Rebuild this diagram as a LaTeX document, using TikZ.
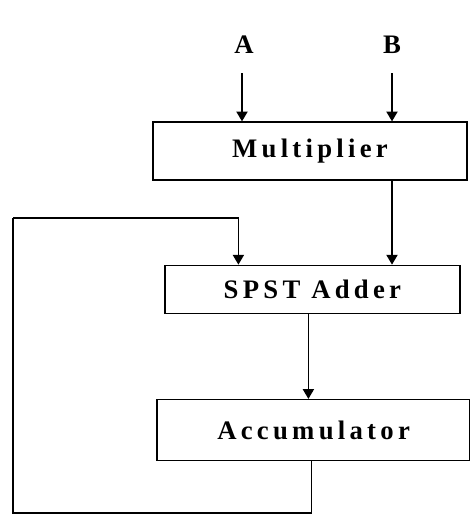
\documentclass[tikz,border=0pt]{standalone}
\usepackage{fontspec}
\setmainfont{Liberation Serif}
\usetikzlibrary{positioning, arrows.meta}

\begin{document}
\begin{tikzpicture}[
    node distance=2.1cm,
    block/.style={rectangle, draw=black, line width=0.9pt, minimum width=7.85cm, minimum height=1.45cm, align=center, font=\fontsize{19}{22}\selectfont\bfseries\addfontfeature{LetterSpace=16}},
    inlabel/.style={font=\fontsize{19}{22}\selectfont\bfseries, inner sep=1pt},
    arrow/.style={-{Triangle[width=8pt, length=7pt]}, line width=0.9pt},
    wire/.style={line width=0.9pt}
]
\useasboundingbox (0,0) rectangle (11.75,-12.875);

% Inputs
\node[inlabel] (a) at (6.1,-1.12) {A};
\node[inlabel] (b) at (9.8,-1.12) {B};

% Blocks
\node[block] (mult) at (7.75,-3.775) {Multiplier};
\node[block, minimum width=7.375cm, minimum height=1.2cm, below=of mult, xshift=0.06cm] (sum) {SPST Adder};
\node[block, minimum width=7.825cm, minimum height=1.525cm, below=2.125cm of sum, xshift=0.03cm] (acc) {Accumulator};

% Feedback corners
\coordinate (fbl) at (0.325,-12.825);
\coordinate (fbt) at (0.325,-5.45);

% Data flow
\draw[arrow] ([yshift=-0.45cm]a.south -| 6.05,0) -- (mult.north -| 6.05,0);
\draw[arrow] ([yshift=-0.45cm]b.south) -- (b |- mult.north);
\draw[arrow] (mult.south -| b) -- (sum.north -| b);
\draw[arrow] ([xshift=-0.1cm]sum.south) -- ([xshift=-0.1cm]sum.south |- acc.north);

% Accumulator feedback into adder
\draw[wire] ([xshift=-0.05cm]acc.south) |- (fbl) -- (fbt);
\draw[arrow] (fbt) -| ([xshift=-1.85cm]sum.north);

\end{tikzpicture}
\end{document}
